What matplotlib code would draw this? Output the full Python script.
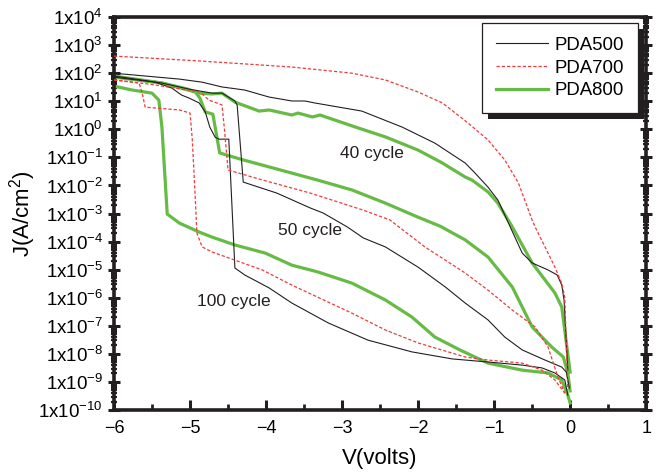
import numpy as np
import matplotlib
matplotlib.use('Agg')
import matplotlib.pyplot as plt
from matplotlib.patches import Rectangle
from matplotlib.ticker import FixedLocator, LogLocator, NullFormatter, MultipleLocator

plt.rcParams['font.family'] = ['Liberation Sans', 'DejaVu Sans']
plt.rcParams['mathtext.default'] = 'regular'

# J-V sweeps; current density stored as log10(J / A cm^-2)
# PDA500
v_500_40 = [-6.0, -5.59, -5.14, -4.84, -4.58, -4.28, -3.96, -3.66, -3.49, -3.36, -2.74, -2.21,
            -1.78, -1.38, -1.25, -1.08, -0.95, -0.63, -0.5, -0.29, -0.17, -0.11, -0.08, -0.03]
lj_500_40 = [2.0, 1.9, 1.79, 1.68, 1.51, 1.4, 1.15, 1.01, 1.01, 0.94, 0.65, 0.08,
             -0.49, -1.2, -1.56, -2.06, -2.52, -4.41, -4.76, -5.01, -5.19, -5.55, -6.08, -8.58]
v_500_50 = [-6.0, -5.37, -5.01, -4.71, -4.58, -4.41, -4.38, -4.3, -3.86, -3.42, -3.25, -2.93,
            -2.72, -2.43, -2.0, -1.64, -1.38, -1.08, -0.86, -0.63, -0.33, -0.11, -0.05, -0.01]
lj_500_50 = [1.9, 1.65, 1.43, 1.29, 1.29, 1.01, 0.86, -1.88, -2.27, -2.8, -2.98, -3.48,
             -3.87, -4.19, -4.91, -5.62, -6.19, -6.79, -7.4, -7.86, -8.22, -8.47, -8.65, -9.22]
v_500_100 = [-6.0, -5.46, -5.24, -5.11, -5.01, -4.88, -4.8, -4.74, -4.67, -4.62, -4.49, -4.41,
             -4.28, -3.96, -3.66, -3.18, -2.66, -2.08, -1.55, -1.08, -0.63, -0.37, -0.2, -0.07, -0.03]
lj_500_100 = [1.86, 1.68, 1.47, 1.22, 1.11, 0.94, 0.62, 0.08, -0.28, -0.35, -0.35, -4.94,
              -5.19, -5.65, -6.19, -6.9, -7.51, -7.93, -8.18, -8.29, -8.4, -8.5, -8.68, -8.93, -9.47]

# PDA700
v_700_40 = [-6.0, -4.84, -3.66, -2.87, -2.43, -2.0, -1.68, -1.34, -1.08, -0.86, -0.68, -0.5,
            -0.46, -0.33, -0.2, -0.11, -0.07, -0.03]
lj_700_40 = [2.61, 2.43, 2.22, 2.0, 1.76, 1.33, 0.94, 0.22, -0.38, -1.09, -1.91, -3.23,
             -3.48, -4.19, -4.91, -5.48, -5.98, -9.29]
v_700_50 = [-6.0, -5.53, -4.87, -4.75, -4.58, -4.55, -4.5, -4.04, -3.42, -2.72, -2.37, -1.91,
            -1.38, -1.08, -0.76, -0.46, -0.29, -0.16, -0.07]
lj_700_50 = [1.76, 1.61, 1.33, 1.04, 0.87, 0.08, -1.45, -1.81, -2.27, -2.88, -3.23, -4.19,
             -5.12, -5.73, -6.44, -7.04, -7.76, -8.83, -9.4]
v_700_100 = [-6.0, -5.67, -5.63, -5.59, -5.14, -5.0, -4.97, -4.93, -4.91, -4.84, -4.71, -4.41,
             -4.05, -3.66, -3.32, -2.87, -2.43, -2.0, -1.38, -1.08, -0.63, -0.37, -0.2, -0.07]
lj_700_100 = [1.76, 1.65, 1.29, 0.79, 0.69, 0.58, -0.38, -2.52, -3.7, -4.19, -4.37, -4.66,
              -5.01, -5.55, -5.98, -6.55, -7.15, -7.61, -8.11, -8.22, -8.33, -8.58, -8.93, -9.4]

# PDA800
v_800_40 = [-6.0, -5.37, -5.04, -4.88, -4.71, -4.58, -4.41, -4.09, -3.96, -3.66, -3.58, -3.39,
            -3.29, -2.79, -2.43, -2.0, -1.68, -1.38, -1.29, -1.08, -0.95, -0.76, -0.5, -0.2,
            -0.11, 0.0]
lj_800_40 = [1.9, 1.65, 1.44, 1.29, 1.26, 1.29, 0.97, 0.65, 0.69, 0.51, 0.58, 0.44,
             0.51, 0.05, -0.27, -0.74, -1.2, -1.7, -1.81, -2.23, -2.63, -3.48, -4.76, -5.83,
             -6.33, -8.65]
v_800_50 = [-6.0, -5.37, -4.93, -4.87, -4.8, -4.7, -4.61, -4.34, -3.66, -3.32, -2.87, -2.43,
            -2.0, -1.71, -1.38, -1.08, -0.76, -0.5, -0.24, -0.09, -0.03, 0.0]
lj_800_50 = [1.86, 1.65, 1.33, 1.11, 0.62, 0.54, -0.84, -1.06, -1.56, -1.81, -2.16, -2.63,
             -3.13, -3.45, -3.94, -4.55, -5.62, -7.04, -7.76, -8.11, -8.68, -9.32]
v_800_100 = [-6.0, -5.76, -5.5, -5.41, -5.37, -5.3, -5.14, -4.88, -4.71, -4.41, -4.01, -3.66,
             -3.32, -2.87, -2.43, -2.08, -1.78, -1.45, -1.08, -0.63, -0.29, -0.11, -0.03, 0.0]
lj_800_100 = [1.54, 1.4, 1.29, 1.04, 0.08, -3.02, -3.34, -3.66, -3.84, -4.12, -4.41, -4.84,
              -5.08, -5.48, -6.08, -6.69, -7.4, -7.86, -8.33, -8.58, -8.68, -8.93, -9.47, -9.75]

cycle_labels = ['40 cycle', '50 cycle', '100 cycle']
cycle_label_v = [-2.61, -3.42, -4.43]
cycle_label_lj = [-0.85, -3.59, -6.15]

y_exponents = list(range(-10, 5))

black = '#231f20'
red = '#f03a3a'
green = '#66bb45'

fig = plt.figure(figsize=(6.61, 4.74), dpi=100)
ax = fig.add_axes([0.1725, 0.135, 0.805, 0.829])

sweeps = [
    (v_500_40, lj_500_40), (v_500_50, lj_500_50), (v_500_100, lj_500_100),
]
for i, (v, lj) in enumerate(sweeps):
    ax.plot(v, 10.0 ** np.array(lj), color=black, lw=0.8,
            label='PDA500' if i == 0 else None, zorder=3)

sweeps = [
    (v_700_40, lj_700_40), (v_700_50, lj_700_50), (v_700_100, lj_700_100),
]
for i, (v, lj) in enumerate(sweeps):
    ax.plot(v, 10.0 ** np.array(lj), color=red, lw=0.9, dashes=(2.6, 1.6),
            label='PDA700' if i == 0 else None, zorder=3)

sweeps = [
    (v_800_40, lj_800_40), (v_800_50, lj_800_50), (v_800_100, lj_800_100),
]
for i, (v, lj) in enumerate(sweeps):
    ax.plot(v, 10.0 ** np.array(lj), color=green, lw=2.3,
            label='PDA800' if i == 0 else None, zorder=2)

for txt, v, lj in zip(cycle_labels, cycle_label_v, cycle_label_lj):
    ax.text(v, 10.0 ** lj, txt, fontsize=12.5, color=black, ha='center', va='center')

ax.set_xlim(-6, 1)
ax.set_yscale('log')
ax.set_ylim(1e-10, 1e4)

ax.xaxis.set_major_locator(MultipleLocator(1))
ax.xaxis.set_minor_locator(MultipleLocator(0.5))
ax.yaxis.set_major_locator(FixedLocator([10.0 ** e for e in y_exponents]))
ax.yaxis.set_major_formatter(plt.FixedFormatter(['1x10$^{%d}$' % e for e in y_exponents]))
ax.yaxis.set_minor_locator(LogLocator(base=10, subs=np.arange(2, 10), numticks=30))
ax.yaxis.set_minor_formatter(NullFormatter())

for s in ax.spines.values():
    s.set_linewidth(2.6)
    s.set_color(black)

ax.tick_params(axis='x', which='major', direction='in', length=7, width=2.2,
               labelsize=13, pad=7, color=black)
ax.tick_params(axis='x', which='minor', direction='in', length=4, width=2, color=black)
ax.tick_params(axis='y', which='major', direction='inout', length=8, width=2.2,
               labelsize=13.5, pad=4, right=True, color=black)
ax.tick_params(axis='y', which='minor', direction='inout', length=5, width=1.6,
               right=True, color=black)

ax.set_xlabel('V(volts)', fontsize=16, labelpad=8)
ax.set_ylabel('J(A/cm$^{2}$)', fontsize=16, labelpad=0)

leg = ax.legend(loc='upper right', bbox_to_anchor=(0.985, 0.985), borderaxespad=0,
                fontsize=13.4, fancybox=False, edgecolor=black, framealpha=1,
                borderpad=0.75, labelspacing=0.3, handlelength=2.8, handletextpad=0.35)
leg.get_frame().set_linewidth(0.9)
leg.set_zorder(6)

# drop shadow behind the legend box
fig.canvas.draw()
bb = leg.get_frame().get_window_extent().transformed(ax.transAxes.inverted())
dx = 6 / (ax.bbox.width)
dy = 6 / (ax.bbox.height)
ax.add_patch(Rectangle((bb.x0 + dx, bb.y0 - dy), bb.width, bb.height, transform=ax.transAxes,
                       facecolor=black, edgecolor='none', zorder=5.5, clip_on=False))

fig.savefig('out.png', dpi=100)
